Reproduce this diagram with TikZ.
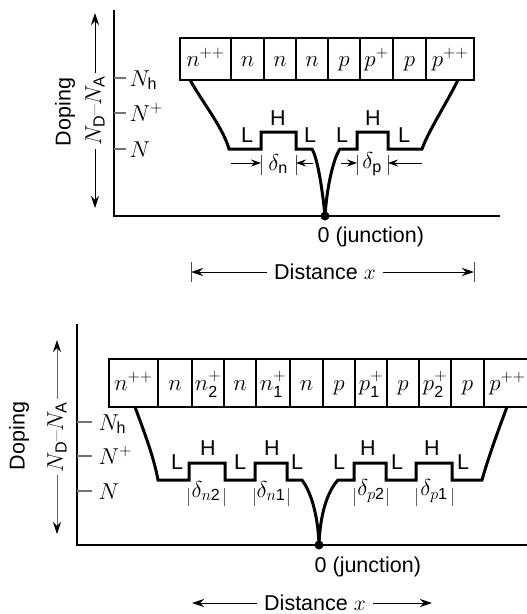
\RequirePackage{fix-cm}
\documentclass[tikz,border=0pt]{standalone}
\usepackage{amsmath}
\usepackage{fontspec}
\setsansfont{Liberation Sans}
\usetikzlibrary{arrows.meta}
\begin{document}
\begin{tikzpicture}[x=1pt,y=-1pt,
  every node/.style={inner sep=1.5pt},
  sf/.style={font=\sffamily\fontsize{21.5}{25}\selectfont},
  mt/.style={font=\fontsize{23}{27}\selectfont},
  axis/.style={line width=1.1pt},
  tick/.style={line width=1.1pt, draw=black!55},
  prof/.style={line width=3pt, line join=miter, line cap=butt},
  cellline/.style={line width=2pt},
  outer/.style={line width=2.6pt},
  arr/.style={line width=1pt, -{Stealth[length=12pt,width=8pt]}},
  garr/.style={line width=1pt, draw=black!60, -{Stealth[length=12pt,width=8pt,color=black]}},
  sarr/.style={line width=1pt, -{Stealth[length=10pt,width=7pt]}},
  bar/.style={line width=1pt, draw=black!60},
]
\useasboundingbox (0,0) rectangle (527,614);

% ================= TOP DIAGRAM =================
\coordinate (o1) at (114,216);
\coordinate (ya1) at (114,10);
\coordinate (xa1) at (500,216);
\draw[axis] (ya1) -- (o1) -- (xa1);
\foreach \y/\t/\n in {78/{$N_{\mathsf{h}}$}/a, 113/{$N^{+}$}/b, 149/{$N$}/c}{
  \draw[tick] (114,\y) -- (126,\y);
  \node[mt, anchor=base west] (tl\n) at (128,\y+8) {\t};
}
\node[sf, rotate=90] (dop1) at (65,112) {Doping};
\node[mt, rotate=90, inner sep=3pt] (nd1) at (95,111) {$N_{\mathsf{D}}$–$N_{\mathsf{A}}$};
\coordinate (up1) at (95,13);
\coordinate (dn1) at (95,208);
\draw[arr] (nd1.east) -- (up1);
\draw[arr] (nd1.west) -- (dn1);

\foreach \a/\b/\t [count=\i] in {180/231/{$n^{++}$}, 231/264/{$n$}, 264/296/{$n$}, 296/328/{$n$}, 328/360/{$p$}, 360/393/{$p^{+}$}, 393/426/{$p$}, 426/474/{$p^{++}$}}{
  \draw[cellline] (\a,38) rectangle (\b,80);
  \node[mt, anchor=base] (tc\i) at ({(\a+\b)/2},66) {\t};
}
\draw[outer] (180,38) rectangle (474,80);

\node[circle, fill, inner sep=0pt, minimum size=9pt] (j1) at (325,216) {};
\draw[prof] (190,80) .. controls (205,106) and (223,128) .. (229,149)
  -- (261,149) -- (261,132) -- (296,132) -- (296,149) -- (312,149)
  .. controls (317,157) and (322,185) .. (j1.center)
  .. controls (327,185) and (334,157) .. (340,149)
  -- (357,149) -- (357,132) -- (388,132) -- (388,149) -- (422,149)
  .. controls (428,132) and (446,104) .. (458,80);

\foreach \x/\y/\t [count=\i] in {247/135/L, 278/118/H, 310/135/L, 342/135/L, 373/118/H, 404/135/L}{
  \node[sf] (lh\i) at (\x,\y) {\t};
}
\node[mt] (dn) at (278,164) {$\delta_{\mathsf{n}}$};
\node[mt] (dp) at (372,164) {$\delta_{\mathsf{p}}$};
\foreach \x in {261,296,357,388}{
  \draw[bar, draw=black!70] (\x,155) -- (\x,175);
}
\coordinate (a1) at (231,163); \coordinate (b1) at (261,163);
\coordinate (a2) at (313,163); \coordinate (b2) at (296,163);
\coordinate (a3) at (341,163); \coordinate (b3) at (357,163);
\coordinate (a4) at (422,163); \coordinate (b4) at (388,163);
\draw[sarr] (a1) -- (b1);
\draw[sarr] (a2) -- (b2);
\draw[sarr] (a3) -- (b3);
\draw[sarr] (a4) -- (b4);

\node[sf, anchor=base west] (jl1) at (316,242) {0 (junction)};
\node[sf, inner sep=7pt] (dist1) at (325,272) {Distance $x$};
\coordinate (dl1) at (191,272);
\coordinate (dr1) at (474,272);
\draw[bar, draw=black!70] (191,262) -- (191,282);
\draw[bar, draw=black!70] (474,262) -- (474,282);
\draw[arr] (dist1.west) -- (dl1);
\draw[arr] (dist1.east) -- (dr1);

% ================= BOTTOM DIAGRAM =================
\coordinate (o2) at (77,545);
\coordinate (ya2) at (77,324);
\coordinate (xa2) at (530,545);
\draw[axis] (ya2) -- (o2) -- (xa2);
\foreach \y/\t/\n in {422/{$N_{\mathsf{h}}$}/a, 456/{$N^{+}$}/b, 491/{$N$}/c}{
  \draw[tick] (77,\y) -- (92,\y);
  \node[mt, anchor=base west] (bl\n) at (97,\y+8) {\t};
}
\node[sf, rotate=90] (dop2) at (19,436) {Doping};
\node[mt, rotate=90, inner sep=3pt] (nd2) at (57,437) {$N_{\mathsf{D}}$–$N_{\mathsf{A}}$};
\coordinate (up2) at (57,340);
\coordinate (dn2) at (57,534);
\draw[garr] (nd2.east) -- (up2);
\draw[garr] (nd2.west) -- (dn2);

\foreach \a/\b/\t [count=\i] in {109/158/{$n^{++}$}, 158/192/{$n$}, 192/224/{$n^{+}_{\mathsf{2}}$}, 224/256/{$n$}, 256/290/{$n^{+}_{\mathsf{1}}$}, 290/323/{$n$}, 323/355/{$p$}, 355/387/{$p^{+}_{\mathsf{1}}$}, 387/419/{$p$}, 419/451/{$p^{+}_{\mathsf{2}}$}, 451/484/{$p$}, 484/531/{$p^{++}$}}{
  \draw[cellline] (\a,359) rectangle (\b,407);
  \node[mt, anchor=base] (bc\i) at ({(\a+\b)/2},390) {\t};
}
\draw[outer] (109,359) rectangle (531,407);

\node[circle, fill, inner sep=0pt, minimum size=9pt] (j2) at (319,545) {};
\draw[prof] (135,407) .. controls (145,434) and (154,458) .. (158,480)
  -- (189,480) -- (189,463) -- (225,463) -- (225,480) -- (255,480) -- (255,463)
  -- (287,463) -- (287,480) -- (302,480)
  .. controls (311,492) and (318,515) .. (j2.center)
  .. controls (320,515) and (327,492) .. (338,480)
  -- (354,480) -- (354,463) -- (386,463) -- (386,480) -- (416,480) -- (416,463)
  -- (452,463) -- (452,480) -- (482,480)
  .. controls (487,462) and (496,436) .. (507,407);

\foreach \x/\y/\t [count=\i] in {177/462/L, 208/448/H, 240/462/L, 272/448/H, 297/462/L, 339/462/L, 368/448/H, 397/462/L, 432/448/H, 463/462/L}{
  \node[sf] (blh\i) at (\x,\y) {\t};
}
\foreach \x in {188,224,254,288,354,387,416,452}{
  \draw[bar] (\x,488) -- (\x,506);
}
\node[mt] (dn2l) at (206,491) {$\delta_{n\mathsf{2}}$};
\node[mt] (dn1l) at (271,491) {$\delta_{n\mathsf{1}}$};
\node[mt] (dp2l) at (371,491) {$\delta_{p\mathsf{2}}$};
\node[mt] (dp1l) at (434,491) {$\delta_{p\mathsf{1}}$};

\node[sf, anchor=base west] (jl2) at (313,572) {0 (junction)};
\node[sf, inner sep=7pt] (dist2) at (315,603) {Distance $x$};
\coordinate (dl2) at (192,603);
\coordinate (dr2) at (432,603);
\draw[arr] (dist2.west) -- (dl2);
\draw[arr] (dist2.east) -- (dr2);
\end{tikzpicture}
\end{document}
